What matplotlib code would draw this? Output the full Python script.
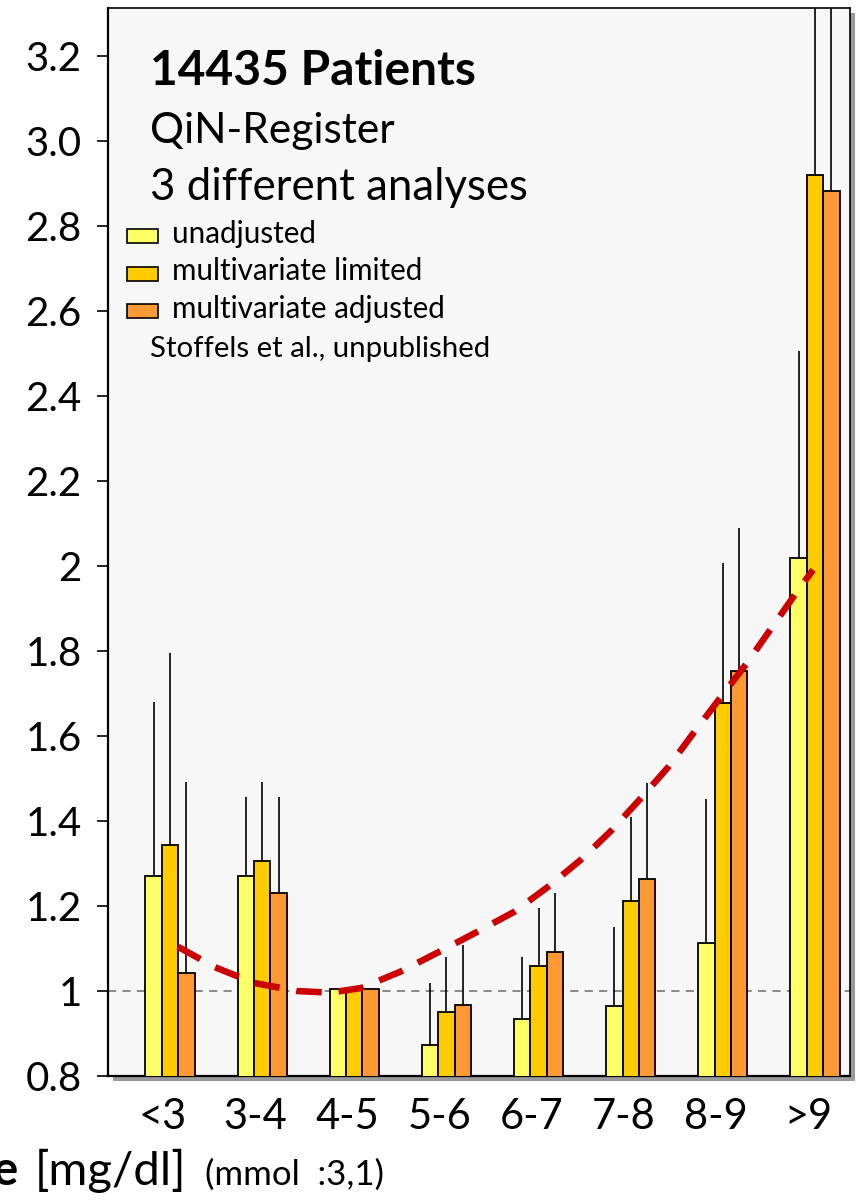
import numpy as np
import matplotlib
matplotlib.use("Agg")
import matplotlib.pyplot as plt
from matplotlib.patches import Rectangle
from matplotlib.transforms import ScaledTranslation

plt.rcParams['font.family'] = ['Lato', 'DejaVu Sans']

# Kategorien (Harnsäure-Klassen)
categories = ["<3", "3-4", "4-5", "5-6", "6-7", "7-8", "8-9", ">9"]
series_names = ["unadjusted", "multivariate limited", "multivariate adjusted"]
series_colors = ["#FFFF66", "#FFCC00", "#FF9933"]

# Werte
unadjusted = [1.27, 1.27, 1.005, 0.873, 0.935, 0.965, 1.114, 2.02]
mv_limited = [1.343, 1.306, 1.005, 0.951, 1.058, 1.212, 1.677, 2.92]
mv_adjusted = [1.042, 1.23, 1.005, 0.967, 1.092, 1.263, 1.753, 2.882]

# obere Konfidenzgrenzen (None = keine)
unadjusted_hi = [1.681, 1.456, None, 1.018, 1.081, 1.151, 1.452, 2.506]
mv_limited_hi = [1.795, 1.492, None, 1.079, 1.195, 1.41, 2.008, 3.6]
mv_adjusted_hi = [1.492, 1.456, None, 1.108, 1.23, 1.489, 2.09, 3.6]

trend_x = [0.087, 0.488, 0.912, 1.378, 1.736, 2.073, 2.496, 2.919, 3.332, 3.733,
           4.102, 4.471, 4.797, 5.112, 5.416, 5.698, 5.980, 6.262, 6.534, 6.794, 6.979]
trend_y = [1.104, 1.056, 1.019, 1.000, 0.996, 1.007, 1.045, 1.092, 1.139, 1.186,
           1.245, 1.311, 1.379, 1.454, 1.529, 1.612, 1.692, 1.772, 1.856, 1.936, 1.991]

yticks = [0.8, 1.0, 1.2, 1.4, 1.6, 1.8, 2.0, 2.2, 2.4, 2.6, 2.8, 3.0, 3.2]
ytick_labels = ["0.8", "1", "1.2", "1.4", "1.6", "1.8", "2", "2.2", "2.4", "2.6", "2.8", "3.0", "3.2"]

W, H = 860, 1203
fig = plt.figure(figsize=(W / 100, H / 100), dpi=100)


def fx(px):
    return px / W


def fy(py):
    return 1 - py / H


ax_l, ax_r, ax_t, ax_b = 108, 850, 8, 1076
# Schatten hinter dem Diagramm
fig.patches.append(Rectangle((fx(ax_l + 5), fy(ax_b + 5)), (ax_r - ax_l) / W, (ax_b - ax_t) / H,
                             transform=fig.transFigure, facecolor="#999999", edgecolor="none", zorder=-1))
ax = fig.add_axes([fx(ax_l), fy(ax_b), (ax_r - ax_l) / W, (ax_b - ax_t) / H])
ax.set_facecolor("#F7F7F7")

x = np.arange(len(categories))
w = 0.178
all_vals = [unadjusted, mv_limited, mv_adjusted]
all_hi = [unadjusted_hi, mv_limited_hi, mv_adjusted_hi]
for i, (vals, his, col, name) in enumerate(zip(all_vals, all_hi, series_colors, series_names)):
    xs = x + (i - 1) * w
    ax.bar(xs, vals, width=w, bottom=0, color=col, edgecolor="black", linewidth=1.3,
           label=name, zorder=3)
    for xi, v, h in zip(xs, vals, his):
        if h is not None:
            ax.vlines(xi, v, h, color="black", linewidth=1.2, zorder=2)

ax.axhline(1.0, color="#808080", linewidth=1.3, linestyle=(0, (4.5, 3.5)), zorder=1)
ax.plot(trend_x, trend_y, color="#CC0000", linewidth=4.7, linestyle=(0, (3.9, 2.6)),
        dash_capstyle="butt", zorder=4)

ax.set_xlim(-0.673, 7.38)
ax.set_ylim(0.8, 0.8 + (ax_b - ax_t) / 425)
ax.set_yticks(yticks)
ax.set_yticklabels(ytick_labels, fontsize=29)
ax.set_xticks(x)
ax.set_xticklabels(categories, fontsize=30)
ax.tick_params(axis="y", direction="out", length=8, width=1.2, pad=11)
ax.tick_params(axis="x", length=0, pad=16)
# Beschriftungen etwas nach links versetzt wie im Original
shift = ScaledTranslation(-7 / 100, 0, fig.dpi_scale_trans)
for lab in ax.get_xticklabels():
    lab.set_transform(lab.get_transform() + shift)
for s in ["left", "bottom"]:
    ax.spines[s].set_linewidth(1.6)
for s in ["top", "right"]:
    ax.spines[s].set_linewidth(1.2)

# Texte im Diagramm
fig.text(fx(150), fy(85), "14435 Patients", fontsize=34.5, fontweight="bold", va="baseline")
fig.text(fx(150), fy(143), "QiN-Register", fontsize=30.5, va="baseline")
fig.text(fx(150), fy(200), "3 different analyses", fontsize=31.5, va="baseline")
for k, (name, col) in enumerate(zip(series_names, series_colors)):
    base = 243 + k * 37.5
    fig.patches.append(Rectangle((fx(127), fy(base)), 31 / W, 14 / H, transform=fig.transFigure,
                                 facecolor=col, edgecolor="black", linewidth=1.2, zorder=5))
    fig.text(fx(172), fy(base), name, fontsize=21.3, va="baseline")
fig.text(fx(150), fy(357), "Stoffels et al., unpublished", fontsize=21.2, va="baseline")

# Achsentitel (links abgeschnitten)
fig.text(fx(-8), fy(1185), "e", fontsize=34, fontweight="bold", va="baseline")
fig.text(fx(35), fy(1185), "[mg/dl]", fontsize=34, va="baseline")
fig.text(fx(205), fy(1185), "(mmol  :3,1)", fontsize=25, va="baseline")

fig.savefig("out.png", dpi=100)
